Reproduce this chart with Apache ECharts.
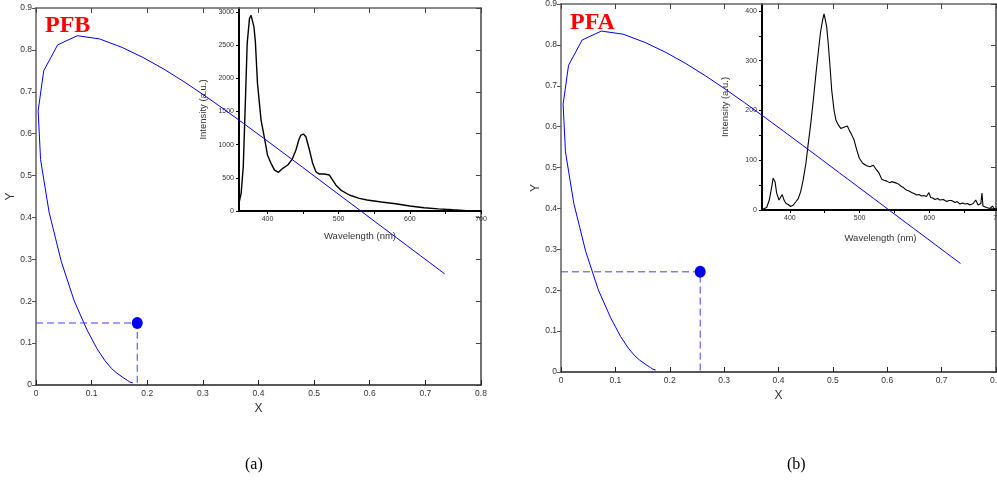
<!DOCTYPE html>
<html>
<head>
<meta charset="utf-8">
<script src="https://cdn.jsdelivr.net/npm/echarts@6/dist/echarts.min.js"></script>
<style>html,body{margin:0;padding:0;background:#fff;}#c{width:997px;height:480px;}</style>
</head>
<body>
<div id="c"></div>
<script>
// CIE 1931 spectral locus as drawn (x, y chromaticity)
const locusX = [0.1741,0.1733,0.1714,0.1689,0.1644,0.1566,0.1440,0.1355,0.1241,0.1096,0.0913,0.0687,0.0454,0.0235,0.0082,0.0039,0.0139,0.0389,0.0743,0.1142,0.1547,0.1929,0.2296,0.2658,0.3016,0.3373,0.3731,0.4087,0.4441,0.4788,0.5125,0.5448,0.5752,0.6029,0.6270,0.6482,0.6658,0.6915,0.7079,0.7190,0.7260,0.7300,0.7334,0.7347];
const locusY = [0.0050,0.0048,0.0051,0.0069,0.0109,0.0177,0.0297,0.0399,0.0578,0.0868,0.1327,0.2007,0.2950,0.4127,0.5384,0.6548,0.7502,0.8120,0.8338,0.8262,0.8059,0.7816,0.7543,0.7243,0.6923,0.6589,0.6245,0.5896,0.5547,0.5202,0.4866,0.4544,0.4242,0.3965,0.3725,0.3514,0.3340,0.3083,0.2920,0.2809,0.2740,0.2700,0.2666,0.2653];

// colour coordinates of the samples
const pointPFB = [0.182, 0.148];
const pointPFA = [0.256, 0.245];

// emission spectra (insets)
const wlPFB = [360,363,366,369,371.5,374.7,377,381,383,386,391,395,398,400,405,410,415.5,421.5,428.5,434.6,440,444,447,450.5,454,459,463.5,468,473,480,487,491.6,496,503,515,529,540,560,580,600,620,640,660,680,700];
const intPFB = [120,266,667,1670,2525,2900,2950,2775,2550,1920,1370,1145,970,843,718,617,583,643,693,778,919,1070,1145,1160,1120,919,718,592,557,557,542,467,392,316,241,191,166,135,110,75,48,32,18,5,2];

const wlPFA = [360,361,366.7,370.5,374,376,378.7,381,384.4,386.8,389,391.6,394.4,397.7,401,405,408.8,412,415.5,419,423,426.4,430,433.6,437.5,440.8,444,447,449,450.4,452.8,455,457.6,460,463.3,466,469.5,473,476.6,479,482.4,485,488.7,492,495.9,499.6,504.5,510,515,519.7,524.6,528,531.7,535,539,543,546,548,553,556,560,563,567,571,574.6,578,582,585,589,592,596,599.5,602,605,608,612,615,620,625,628,632,637,640,644,648,651,655,658,663,666.6,670,674,675.6,677,682,687,690.5,694,697,700];
const intPFA = [1,1.4,5,20,47,64,57,34,20,21,31,20,13,11,7,10,17,23,37,60,94,134,174,221,275,318,358,382,394,385,368,335,288,241,201,181,171,164,166,162,169,161,151,141,121,104,94,89,87,90,80,74,62,60,58,55,57,60,54,52,47,45,40,38,35,33,30,31,28,29,27,35,25,24,21,23,20,21,17,19,19,15,17,12,14,12,13,10,13,20,10,13,34,8,5,3,8,1,4,3];

// tick values of the inset wavelength axes
const wlTicks = [400,450,500,550,600,650,700];
const wlLabels = [400,500,600,700];

const panelLabels = ['PFB', 'PFA'];
const captions = ['(a)', '(b)'];

const zip = (a, b) => a.map((v, i) => [v, b[i]]);
const SANS = '"Liberation Sans", Arial, sans-serif';
const SERIF = '"Liberation Serif", "Times New Roman", serif';

function mainAxes(g) {
  const xs = [
    { gridIndex: g, type: 'value', min: 0, max: 0.8, interval: 0.1, position: 'bottom',
      axisLine: { onZero: false, lineStyle: { color: '#222', width: 1.5 } },
      axisTick: { inside: true, length: 5, lineStyle: { color: '#222' } },
      axisLabel: { fontSize: 8.5, color: '#333', fontFamily: SANS, margin: 4 },
      splitLine: { show: false },
      name: 'X', nameLocation: 'middle', nameGap: 16,
      nameTextStyle: { fontSize: 12, color: '#333', fontFamily: SANS } },
    { gridIndex: g, type: 'value', min: 0, max: 0.8, interval: 0.1, position: 'top',
      axisLine: { onZero: false, lineStyle: { color: '#666', width: 1.5 } },
      axisTick: { inside: true, length: 5, lineStyle: { color: '#444' } },
      axisLabel: { show: false }, splitLine: { show: false } }
  ];
  const ys = [
    { gridIndex: g, type: 'value', min: 0, max: 0.9, interval: 0.1, position: 'left',
      axisLine: { onZero: false, lineStyle: { color: '#888', width: 2 } },
      axisTick: { inside: false, length: 4, lineStyle: { color: '#555' } },
      axisLabel: { fontSize: 8.5, color: '#333', fontFamily: SANS, margin: 4 },
      splitLine: { show: false },
      name: 'Y', nameLocation: 'middle', nameGap: 17,
      nameTextStyle: { fontSize: 12, color: '#333', fontFamily: SANS } },
    { gridIndex: g, type: 'value', min: 0, max: 0.9, interval: 0.1, position: 'right',
      axisLine: { onZero: false, lineStyle: { color: '#444', width: 1.5 } },
      axisTick: { inside: true, length: 5, lineStyle: { color: '#444' } },
      axisLabel: { show: false }, splitLine: { show: false } }
  ];
  return { xs, ys };
}

function insetAxes(g, ymax, yint, ylabelStep, xgap, ygap) {
  const x = { gridIndex: g, type: 'value', min: 360, max: 700, position: 'bottom',
    axisLine: { onZero: false, lineStyle: { color: '#000', width: 2 } },
    axisTick: { inside: false, length: 3, lineStyle: { color: '#000' }, customValues: wlTicks },
    axisLabel: { fontSize: 7, color: '#333', fontFamily: SANS, margin: 5, customValues: wlLabels },
    splitLine: { show: false },
    name: 'Wavelength (nm)', nameLocation: 'middle', nameGap: xgap,
    nameTextStyle: { fontSize: 9.5, color: '#333', fontFamily: SANS } };
  const y = { gridIndex: g, type: 'value', min: 0, max: ymax, interval: yint, position: 'left',
    axisLine: { onZero: false, lineStyle: { color: '#000', width: 2 } },
    axisTick: { inside: false, length: 3, lineStyle: { color: '#000' } },
    axisLabel: { fontSize: 7, color: '#333', fontFamily: SANS, margin: 5, showMaxLabel: false,
      formatter: v => (v % ylabelStep === 0 && v <= ymax - 1 ? String(v) : '') },
    splitLine: { show: false },
    name: 'Intensity (a.u.)', nameLocation: 'middle', nameGap: ygap,
    nameTextStyle: { fontSize: 9.5, color: '#333', fontFamily: SANS } };
  return { x, y };
}

const mA = mainAxes(0), mB = mainAxes(2);
const iA = insetAxes(1, 3060, 500, 500, 20, 31);
const iB = insetAxes(3, 414, 50, 100, 23, 32);

const xAxis = [mA.xs[0], mA.xs[1], iA.x, mB.xs[0], mB.xs[1], iB.x];
const yAxis = [mA.ys[0], mA.ys[1], iA.y, mB.ys[0], mB.ys[1], iB.y];

function panelSeries(xi, yi, pt) {
  return [
    { type: 'line', xAxisIndex: xi, yAxisIndex: yi, data: zip(locusX, locusY),
      showSymbol: false, symbol: 'none', z: 6, silent: true,
      lineStyle: { color: '#0000ff', width: 1 } },
    { type: 'line', xAxisIndex: xi, yAxisIndex: yi,
      data: [[0, pt[1]], [pt[0], pt[1]], [pt[0], 0]],
      showSymbol: false, symbol: 'none', z: 6, silent: true,
      lineStyle: { color: '#4040ff', width: 1, type: [7, 4] } },
    { type: 'scatter', xAxisIndex: xi, yAxisIndex: yi, data: [pt],
      symbol: 'circle', symbolSize: [11, 12], z: 7, silent: true,
      itemStyle: { color: '#0000f0', opacity: 1 } }
  ];
}

const series = [
  ...panelSeries(0, 0, pointPFB),
  { type: 'line', xAxisIndex: 2, yAxisIndex: 2, data: zip(wlPFB, intPFB),
    showSymbol: false, symbol: 'none', z: 3, silent: true,
    lineStyle: { color: '#000', width: 1.4 } },
  ...panelSeries(3, 3, pointPFA),
  { type: 'line', xAxisIndex: 5, yAxisIndex: 5, data: zip(wlPFA, intPFA),
    showSymbol: false, symbol: 'none', z: 3, silent: true,
    lineStyle: { color: '#000', width: 1.1 } }
];

const chart = echarts.init(document.getElementById('c'), null, { renderer: 'canvas' });
chart.setOption({
  animation: false,
  backgroundColor: '#fff',
  grid: [
    { left: 36, top: 8, width: 445, height: 377, containLabel: false, outerBoundsMode: 'none' },
    { left: 239, top: 8, width: 242, height: 203, containLabel: false, outerBoundsMode: 'none' },
    { left: 561, top: 4, width: 435, height: 368, containLabel: false, outerBoundsMode: 'none' },
    { left: 762, top: 4, width: 237, height: 206, containLabel: false, outerBoundsMode: 'none' }
  ],
  xAxis, yAxis, series,
  graphic: [
    { type: 'text', left: 45, top: 14, z: 20,
      style: { text: panelLabels[0], fill: '#ff0000', font: 'bold 24px ' + SERIF } },
    { type: 'text', left: 570, top: 11, z: 20,
      style: { text: panelLabels[1], fill: '#ff0000', font: 'bold 24px ' + SERIF } },
    { type: 'text', left: 245, top: 457, z: 20,
      style: { text: captions[0], fill: '#000', font: '16px ' + SERIF } },
    { type: 'text', left: 787, top: 457, z: 20,
      style: { text: captions[1], fill: '#000', font: '16px ' + SERIF } }
  ]
});
</script>
</body>
</html>
